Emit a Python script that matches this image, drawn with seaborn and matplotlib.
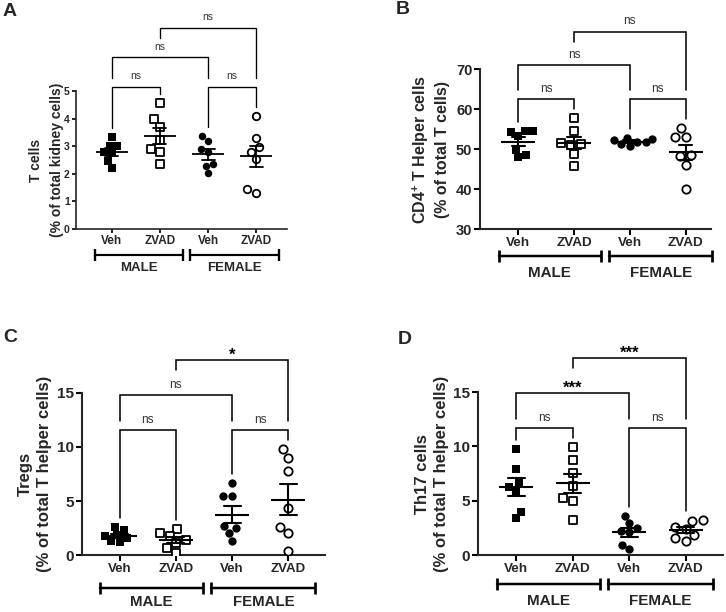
import matplotlib
matplotlib.use("Agg")
import numpy as np
import pandas as pd
import seaborn as sns
from matplotlib import pyplot as plt
from matplotlib import transforms

# ---- data ----
group_keys = ["male_veh", "male_zvad", "female_veh", "female_zvad"]
treatment_labels = ["Veh", "ZVAD", "Veh", "ZVAD"]
sex_labels = ["MALE", "FEMALE"]

tcells_male_veh = [3.34, 3.02, 3.00, 2.80, 2.75, 2.45, 2.22]
tcells_male_zvad = [4.55, 3.97, 3.71, 3.22, 2.90, 2.80, 2.34]
tcells_female_veh = [3.37, 3.20, 2.90, 2.80, 2.34, 2.28, 2.02]
tcells_female_zvad = [4.11, 3.29, 2.97, 2.80, 2.52, 1.44, 1.32]

cd4_male_veh = [54.6, 54.4, 54.2, 53.3, 49.8, 48.6, 47.9]
cd4_male_zvad = [57.7, 54.5, 51.6, 51.3, 51.0, 48.7, 45.8]
cd4_female_veh = [52.7, 52.6, 52.3, 51.8, 51.8, 51.2, 50.7]
cd4_female_zvad = [55.3, 53.1, 53.0, 48.5, 48.2, 46.0, 40.0]

tregs_male_veh = [2.60, 2.30, 1.90, 1.75, 1.60, 1.30, 1.20]
tregs_male_zvad = [2.42, 2.05, 1.80, 1.45, 1.10, 0.70, 0.20]
tregs_female_veh = [6.64, 5.50, 5.50, 2.70, 2.49, 2.03, 1.32]
tregs_female_zvad = [9.78, 8.95, 7.80, 4.33, 2.64, 2.09, 0.43]

th17_male_veh = [9.80, 7.90, 6.60, 6.30, 5.90, 4.00, 3.40]
th17_male_zvad = [9.99, 8.79, 7.53, 6.40, 5.23, 5.00, 3.26]
th17_female_veh = [3.60, 2.95, 2.50, 2.20, 2.10, 0.95, 0.55]
th17_female_zvad = [3.25, 3.15, 2.60, 2.40, 1.85, 1.55, 1.30]

comparisons_a = [(0, 1, "ns"), (2, 3, "ns"), (0, 2, "ns"), (1, 3, "ns")]
comparisons_b = [(0, 1, "ns"), (2, 3, "ns"), (0, 2, "ns"), (1, 3, "ns")]
comparisons_c = [(0, 1, "ns"), (2, 3, "ns"), (0, 2, "ns"), (1, 3, "*")]
comparisons_d = [(0, 1, "ns"), (2, 3, "ns"), (0, 2, "***"), (1, 3, "***")]

# ---- styling ----
sns.set_style("ticks")
plt.rcParams["font.family"] = ["Liberation Sans", "DejaVu Sans"]
plt.rcParams["mathtext.fontset"] = "custom"
plt.rcParams["mathtext.rm"] = "Liberation Sans:bold"
plt.rcParams["mathtext.bf"] = "Liberation Sans:bold"

FIG_W, FIG_H = 726, 612
markers = ["s", "s", "o", "o"]
filled = [True, False, True, False]

layouts = {
    "A": dict(rect=[0.1047, 0.6258, 0.2906, 0.2255], xlim=(-0.742, 3.64), ylim=(0, 5),
              yticks=[0, 1, 2, 3, 4, 5], ytick_fs=7.5, xtick_fs=8.5, sex_fs=9.5,
              ylab_fs=10, ylab_x=-0.057, ylab_ls=1.6, ns_fs=7.5, star_fs=11,
              rows=(1.03, 1.246, 1.457), bar_dy=26, sex_dy=39, msize=5.4,
              mean_w=23, cap=0.27, spine_lw=1.2, lw=1.3, tick_len=3,
              letter_xy=(3, 3)),
    "B": dict(rect=[0.6612, 0.6258, 0.3186, 0.2614], xlim=(-0.686, 3.46), ylim=(30, 70),
              yticks=[30, 40, 50, 60, 70], ytick_fs=10.5, xtick_fs=9.7, sex_fs=10.9,
              ylab_fs=11.5, ylab_x=-0.128, ylab_ls=1.35, ns_fs=8.5, star_fs=12,
              rows=(0.81, 1.025, 1.233), bar_dy=27, sex_dy=44, msize=6.0,
              mean_w=24, cap=0.24, spine_lw=1.5, lw=1.5, tick_len=4,
              letter_xy=(396, 1.5)),
    "C": dict(rect=[0.1129, 0.0926, 0.3347, 0.2657], xlim=(-0.668, 3.65), ylim=(0, 15),
              yticks=[0, 5, 10, 15], ytick_fs=11, xtick_fs=9.5, sex_fs=10.8,
              ylab_fs=12, ylab_x=-0.122, ylab_ls=1.36, ns_fs=8.5, star_fs=12,
              rows=(0.77, 0.985, 1.2), bar_dy=33, sex_dy=47, msize=6.0,
              mean_w=24, cap=0.3, spine_lw=1.5, lw=1.5, tick_len=4,
              letter_xy=(3, 328.5)),
    "D": dict(rect=[0.6584, 0.0926, 0.3375, 0.2668], xlim=(-0.678, 3.66), ylim=(0, 15),
              yticks=[0, 5, 10, 15], ytick_fs=11, xtick_fs=9.7, sex_fs=11,
              ylab_fs=12, ylab_x=-0.118, ylab_ls=1.36, ns_fs=8.5, star_fs=12,
              rows=(0.778, 0.992, 1.206), bar_dy=29, sex_dy=46, msize=6.0,
              mean_w=24, cap=0.3, spine_lw=1.5, lw=1.5, tick_len=4,
              letter_xy=(398, 331.5)),
}

sex_spans = [(-0.35, 1.48), (1.63, 3.48)]


def draw_brackets(ax, values, comparisons, cfg):
    ymin, ymax = cfg["ylim"]
    hpx = cfg["rect"][3] * FIG_H
    dpp = (ymax - ymin) / hpx
    rows = [ymin + r * (ymax - ymin) for r in cfg["rows"]]
    maxes = [max(v) for v in values]
    gap = 9 * dpp
    for i, j, label in comparisons:
        if j - i == 1:
            y, yl, yr = rows[0], maxes[i] + gap, maxes[j] + gap
        elif i == 0:
            y = rows[1]
            yl = yr = rows[0] + gap
        else:
            y = rows[2]
            yl, yr = y - 10 * dpp, rows[0] + gap
        ax.plot([i, i, j, j], [yl, y, y, yr], color="black", lw=cfg["lw"] * 0.75,
                clip_on=False, solid_joinstyle="miter")
        if label == "ns":
            ax.annotate(label, xy=((i + j) / 2, y), xytext=(0, 5.4), textcoords="offset points",
                        ha="center", va="baseline", fontsize=cfg["ns_fs"], color="#333333",
                        annotation_clip=False)
        else:
            ax.annotate(label, xy=((i + j) / 2, y), xytext=(0, 0.5), textcoords="offset points",
                        ha="center", va="baseline", fontsize=cfg["star_fs"], fontweight="bold",
                        color="black", annotation_clip=False)


def draw_panel(fig, letter, values, ylabel, comparisons):
    cfg = layouts[letter]
    ax = fig.add_axes(cfg["rect"])
    df = pd.DataFrame({
        "group": np.repeat(group_keys, [len(v) for v in values]),
        "value": np.concatenate(values),
    })
    for key, marker, full in zip(group_keys, markers, filled):
        sub = df[df["group"] == key]
        sns.swarmplot(data=sub, x="group", y="value", order=group_keys, marker=marker,
                      size=cfg["msize"] if marker == "o" else cfg["msize"] * 0.95,
                      color="black" if full else "white", edgecolor="black",
                      linewidth=0 if full else 1.3, ax=ax, zorder=3)
    sns.pointplot(data=df, x="group", y="value", order=group_keys, errorbar="se",
                  capsize=cfg["cap"], color="black", markers="_", linestyles="none",
                  markersize=cfg["mean_w"], markeredgewidth=cfg["lw"],
                  err_kws={"linewidth": cfg["lw"]}, ax=ax, zorder=4)

    ax.set_xlim(*cfg["xlim"])
    ax.set_ylim(*cfg["ylim"])
    ax.set_yticks(cfg["yticks"])
    ax.set_xticks(range(len(group_keys)))
    ax.set_xticklabels(treatment_labels, fontsize=cfg["xtick_fs"], fontweight="bold")
    ax.set_yticklabels([str(t) for t in cfg["yticks"]], fontsize=cfg["ytick_fs"], fontweight="bold")
    ax.set_xlabel("")
    ax.set_ylabel(ylabel, fontsize=cfg["ylab_fs"], fontweight="bold", linespacing=cfg["ylab_ls"])
    ax.yaxis.set_label_coords(cfg["ylab_x"], 0.5)
    sns.despine(ax=ax)
    for side in ("left", "bottom"):
        ax.spines[side].set_linewidth(cfg["spine_lw"])
    ax.tick_params(length=cfg["tick_len"], width=cfg["spine_lw"], pad=1.5, color="black")

    hpx = cfg["rect"][3] * FIG_H
    trans = transforms.blended_transform_factory(ax.transData, ax.transAxes)
    for (x0, x1), sex in zip(sex_spans, sex_labels):
        yb = -cfg["bar_dy"] / hpx
        ax.plot([x0, x1], [yb, yb], transform=trans, color="black", lw=cfg["lw"] * 1.2,
                marker="|", markersize=9, markeredgewidth=cfg["lw"] * 1.3, clip_on=False)
        ax.text((x0 + x1) / 2, -cfg["sex_dy"] / hpx, sex, transform=trans, ha="center",
                va="center", fontsize=cfg["sex_fs"], fontweight="bold")

    draw_brackets(ax, values, comparisons, cfg)

    lx, ly = cfg["letter_xy"]
    fig.text(lx / FIG_W, 1 - ly / FIG_H, letter, fontsize=14, fontweight="bold",
             ha="left", va="top")
    return ax


fig = plt.figure(figsize=(FIG_W / 100, FIG_H / 100), dpi=100)

draw_panel(fig, "A",
           [tcells_male_veh, tcells_male_zvad, tcells_female_veh, tcells_female_zvad],
           "T cells\n(% of total kidney cells)", comparisons_a)
draw_panel(fig, "B",
           [cd4_male_veh, cd4_male_zvad, cd4_female_veh, cd4_female_zvad],
           "CD4$^{+}$ T Helper cells\n(% of total T cells)", comparisons_b)
draw_panel(fig, "C",
           [tregs_male_veh, tregs_male_zvad, tregs_female_veh, tregs_female_zvad],
           "Tregs\n(% of total T helper cells)", comparisons_c)
draw_panel(fig, "D",
           [th17_male_veh, th17_male_zvad, th17_female_veh, th17_female_zvad],
           "Th17 cells\n(% of total T helper cells)", comparisons_d)

fig.savefig("out.png", dpi=100)
